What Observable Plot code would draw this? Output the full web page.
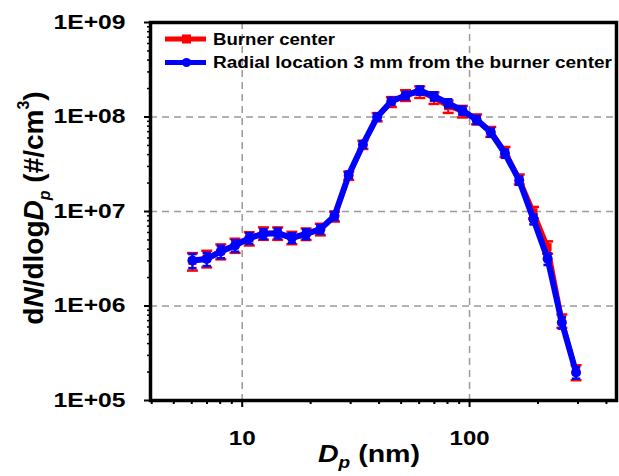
<!DOCTYPE html>
<html><head><meta charset="utf-8">
<script src="https://cdn.jsdelivr.net/npm/d3@7"></script>
<script src="https://cdn.jsdelivr.net/npm/@observablehq/plot@0.6"></script>
<style>
body{margin:0;background:#fff;}
#chart svg{display:block;}
</style></head><body><div id="chart"></div>
<script>
// Particle diameters (nm)
const diameters = [6.04, 6.98, 8.05, 9.30, 10.74, 12.40, 14.32, 16.54, 19.10, 22.06, 25.47, 29.41, 33.96, 39.22,
  45.29, 52.30, 60.40, 69.75, 80.54, 93.01, 107.4, 124.0, 143.2, 165.4, 191.0, 220.5, 254.7, 294.1];
// Burner center dN/dlogDp (#/cm3)
const centerValues = [3.0e6, 3.2e6, 3.8e6, 4.4e6, 5.2e6, 5.9e6, 5.9e6, 5.3e6, 5.8e6, 6.5e6, 8.9e6, 2.4e7, 5.1e7, 1.0e8,
  1.45e8, 1.7e8, 1.85e8, 1.6e8, 1.3e8, 1.15e8, 9.5e7, 7.0e7, 4.3e7, 2.2e7, 9.8e6, 4.2e6, 7.0e5, 2.0e5];
// Radial location 3 mm dN/dlogDp (#/cm3)
const radialValues = [3.03e6, 3.15e6, 3.77e6, 4.37e6, 5.22e6, 5.81e6, 5.89e6, 5.27e6, 5.78e6, 6.5e6, 9.0e6, 2.44e7, 5.12e7, 1.0e8,
  1.47e8, 1.69e8, 1.91e8, 1.66e8, 1.40e8, 1.17e8, 9.34e7, 6.9e7, 4.11e7, 2.13e7, 8.3e6, 3.16e6, 6.7e5, 1.98e5];
// relative errors
const centerErr = [0.21, 0.2, 0.18, 0.17, 0.16, 0.15, 0.15, 0.15, 0.14, 0.14, 0.12, 0.1, 0.1, 0.1,
  0.12, 0.13, 0.14, 0.14, 0.15, 0.14, 0.12, 0.12, 0.12, 0.12, 0.14, 0.15, 0.16, 0.18];
const radialErr = [0.17, 0.16, 0.15, 0.14, 0.13, 0.12, 0.12, 0.12, 0.12, 0.11, 0.1, 0.08, 0.08, 0.08,
  0.08, 0.09, 0.1, 0.1, 0.1, 0.1, 0.1, 0.1, 0.1, 0.1, 0.12, 0.14, 0.14, 0.14];
const seriesNames = ["Burner center", "Radial location 3 mm from the burner center"];
const seriesColors = ["#ff0000", "#0000ff"];
const yTicks = [1e5, 1e6, 1e7, 1e8, 1e9];
const yTickLabels = ["1E+05", "1E+06", "1E+07", "1E+08", "1E+09"];
const yMinor = [2e5,3e5,4e5,5e5,6e5,7e5,8e5,9e5,2e6,3e6,4e6,5e6,6e6,7e6,8e6,9e6,2e7,3e7,4e7,5e7,6e7,7e7,8e7,9e7,2e8,3e8,4e8,5e8,6e8,7e8,8e8,9e8];
const xTicks = [10, 100];
const xTickLabels = ["10", "100"];
const xMinor = [4,5,6,7,8,9,20,30,40,50,60,70,80,90,200,300,400];
const gridX = [10, 100];
const gridY = [1e6, 1e7, 1e8];

function buildRows(vals, errs, name) {
  return diameters.map((d, i) => ({series: name, d, n: vals[i], lo: vals[i]*(1-errs[i]), hi: vals[i]*(1+errs[i])}));
}
const center = buildRows(centerValues, centerErr, seriesNames[0]);
const radial = buildRows(radialValues, radialErr, seriesNames[1]);

const cap = {draw(ctx, size){ const w = Math.sqrt(size/Math.PI); ctx.moveTo(-w,0); ctx.lineTo(w,0); }};

function seriesMarks(rows, color, symbol, r, capR, lw) {
  return [
    Plot.ruleX(rows, {x:"d", y1:"lo", y2:"hi", stroke:color, strokeWidth:2}),
    Plot.dot(rows, {x:"d", y:"lo", symbol:cap, r:capR, stroke:color, strokeWidth:2.5}),
    Plot.dot(rows, {x:"d", y:"hi", symbol:cap, r:capR, stroke:color, strokeWidth:2.5}),
    Plot.line(rows, {x:"d", y:"n", stroke:color, strokeWidth:lw}),
    Plot.dot(rows, {x:"d", y:"n", symbol, r, fill:color, stroke:"none"})
  ];
}

const chart = Plot.plot({
  width: 619, height: 476,
  marginLeft: 150, marginRight: 3, marginTop: 22, marginBottom: 76,
  x: {type: "log", domain: [3.95, 443]},
  y: {type: "log", domain: [1e5, 1e9]},
  style: {fontFamily: "'Liberation Sans', Arial, sans-serif", background: "white", color: "black"},
  marks: [
    Plot.ruleY(gridY, {stroke:"#9a9a9a", strokeWidth:1.5, strokeDasharray:"7,5"}),
    Plot.ruleX(gridX, {stroke:"#9a9a9a", strokeWidth:1.5, strokeDasharray:"7,5"}),
    ...seriesMarks(center, seriesColors[0], "square", 4.5, 5.5, 5),
    ...seriesMarks(radial, seriesColors[1], "circle", 5, 4.2, 6),
    Plot.frame({stroke:"black", strokeWidth:3.5}),
    Plot.axisY(yMinor, {tickSize:3, tickFormat:()=>"", label:null, strokeWidth:1.5}),
    Plot.axisX(xMinor, {tickSize:4, tickFormat:()=>"", label:null, strokeWidth:2}),
    Plot.axisY(yTicks, {tickSize:6, tickPadding:19, strokeWidth:2, label:null,
      tickFormat: d => yTickLabels[yTicks.indexOf(d)], fontSize:19.5, fontWeight:"bold"}),
    Plot.axisX(xTicks, {tickSize:7, tickPadding:24, strokeWidth:2, label:null,
      tickFormat: d => xTickLabels[xTicks.indexOf(d)], fontSize:19.5, fontWeight:"bold"})
  ]
});
document.getElementById("chart").appendChild(chart);

const svg = d3.select(chart);
svg.selectAll('g[aria-label="y-axis tick label"] text').each(function(){
  const t = d3.select(this); if (t.text()) t.attr("textLength", 72).attr("lengthAdjust","spacingAndGlyphs");
});
svg.selectAll('g[aria-label="x-axis tick label"] text').each(function(){
  const t = d3.select(this); const s = t.text();
  if (s) t.attr("textLength", s.length === 2 ? 27 : 40).attr("lengthAdjust","spacingAndGlyphs");
});

const font = "'Liberation Sans', Arial, sans-serif";
// Y title
const yt = svg.append("text").attr("transform","translate(43.3,208) rotate(-90)")
  .attr("text-anchor","middle").attr("font-family",font).attr("font-weight","bold").attr("font-size",28).attr("fill","black");
yt.append("tspan").text("d");
yt.append("tspan").attr("font-style","italic").text("N");
yt.append("tspan").text("/dlog");
yt.append("tspan").attr("font-style","italic").text("D");
yt.append("tspan").attr("font-style","italic").attr("font-size",16).attr("dy",7).text("p");
yt.append("tspan").attr("dy",-7).text(" (#/cm");
yt.append("tspan").attr("font-size",16).attr("dy",-14).text("3");
yt.append("tspan").attr("dy",14).text(")");

// X title
const xt = svg.append("text").attr("x",318).attr("y",462).attr("text-anchor","start")
  .attr("textLength",102).attr("lengthAdjust","spacingAndGlyphs")
  .attr("font-family",font).attr("font-weight","bold").attr("font-size",24).attr("fill","black");
xt.append("tspan").attr("font-style","italic").text("D");
xt.append("tspan").attr("font-style","italic").attr("font-size",16).attr("dy",6).text("p");
xt.append("tspan").attr("dy",-6).text(" (nm)");

// Legend
const legRows = [{y:39, ty:45, len:122}, {y:62.5, ty:67.7, len:399}];
seriesNames.forEach((name, k) => {
  const g = svg.append("g");
  const r = legRows[k];
  g.append("line").attr("x1",165).attr("x2",206).attr("y1",r.y).attr("y2",r.y)
    .attr("stroke",seriesColors[k]).attr("stroke-width",5);
  if (k === 0) g.append("rect").attr("x",182).attr("y",r.y-4.5).attr("width",9).attr("height",9).attr("fill",seriesColors[k]);
  else g.append("circle").attr("cx",186.5).attr("cy",r.y).attr("r",4.5).attr("fill",seriesColors[k]);
  g.append("text").attr("x",213).attr("y",r.ty).attr("text-anchor","start")
    .attr("textLength",r.len).attr("lengthAdjust","spacingAndGlyphs")
    .attr("font-family",font).attr("font-weight","bold").attr("font-size",16).attr("fill","black").text(name);
});
</script></body></html>
